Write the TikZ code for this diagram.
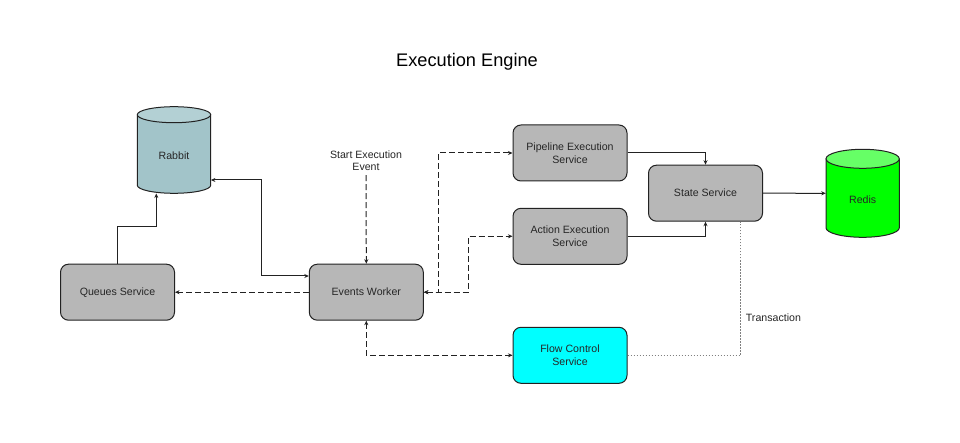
\documentclass[tikz,border=0pt]{standalone}
\usepackage{fontspec}
\setmainfont{Liberation Sans}
\usetikzlibrary{arrows.meta}
\definecolor{boxgray}{HTML}{B7B7B7}
\definecolor{rabbitc}{HTML}{A2C4C9}
\definecolor{rabbittop}{HTML}{B3D0D4}
\definecolor{redisc}{HTML}{00FF00}
\definecolor{redistop}{HTML}{66FF66}
\definecolor{flowc}{HTML}{00FFFF}
\definecolor{edgec}{HTML}{222222}
\definecolor{txtc}{HTML}{262626}
\tikzset{
  svcbox/.style={draw=edgec, line width=1pt, rounded corners=8pt, minimum width=114pt,
    minimum height=56pt, inner sep=0pt, align=center, font=\fontsize{10.6}{12.7}\selectfont, text=txtc},
  cylbox/.style={inner sep=0pt, minimum width=73.4pt, align=center, font=\fontsize{10.6}{12.7}\selectfont, text=txtc},
  conn/.style={line width=1pt, draw=edgec, arrows={-Stealth[length=4.5pt,width=4pt]}},
  dconn/.style={conn, dash pattern=on 6pt off 3pt},
  both/.style={arrows={Stealth[length=4.5pt,width=4pt]-Stealth[length=4.5pt,width=4pt]}},
  lbl/.style={inner sep=0pt, align=center, font=\fontsize{10.6}{12.7}\selectfont, text=txtc}
}
\begin{document}
\begin{tikzpicture}[x=1pt,y=-1pt]
\useasboundingbox (0,0) rectangle (960,443);
\fill[white] (0,0) rectangle (960,443);

\node[inner sep=0pt, font=\fontsize{18.2}{20}\selectfont, text=black] (title) at (467,62) {Execution Engine};

% Rabbit cylinder
\fill[rabbitc] (137.3,114.7) -- (137.3,185.3) arc[start angle=180,end angle=0,x radius=36.7,y radius=8] -- (210.7,114.7) -- cycle;
\draw[edgec, line width=1pt] (137.3,114.7) -- (137.3,185.3) arc[start angle=180,end angle=0,x radius=36.7,y radius=8] -- (210.7,114.7);
\draw[edgec, line width=1pt, fill=rabbittop] (174,114.7) ellipse[x radius=36.7, y radius=8];
\node[cylbox, minimum height=86.6pt] (rabbit) at (174,150) {};
\node[lbl] (rabbitlbl) at (174,156) {Rabbit};

% Redis cylinder
\fill[redisc] (826,158.8) -- (826,227.8) arc[start angle=180,end angle=0,x radius=36.65,y radius=9.5] -- (899.3,158.8) -- cycle;
\draw[edgec, line width=1pt] (826,158.8) -- (826,227.8) arc[start angle=180,end angle=0,x radius=36.65,y radius=9.5] -- (899.3,158.8);
\draw[edgec, line width=1pt, fill=redistop] (862.65,158.8) ellipse[x radius=36.65, y radius=9.5];
\node[cylbox, minimum height=88pt] (redis) at (862.65,193.3) {};
\node[lbl] (redislbl) at (862.65,200) {Redis};

% Service boxes
\node[svcbox, fill=boxgray] (qs) at (117.5,292.2) {Queues Service};
\node[svcbox, fill=boxgray] (ew) at (366.3,292.2) {Events Worker};
\node[svcbox, fill=boxgray] (pes) at (570,153) {Pipeline Execution\\Service};
\node[svcbox, fill=boxgray] (aes) at (570,236.3) {Action Execution\\Service};
\node[svcbox, fill=boxgray] (ss) at (705.5,193.2) {State Service};
\node[svcbox, fill=flowc] (fcs) at (570,355.3) {Flow Control\\Service};

% Labels
\node[lbl, inner ysep=4pt] (start) at (366,160.7) {Start Execution\\Event};
\node[lbl, anchor=west] (trans) at (745.7,317.3) {Transaction};

% Connectors
\draw[conn] (qs.north -| 117.3,0) |- (156.3,227) -- (rabbit.south -| 156.3,0);
\draw[conn, both] (ew.west |- 0,276) -| (261.3,180) -- (rabbit.east |- 0,180);
\draw[dconn] (ew.west) -- (qs.east);
\draw[dconn] (start.south) -- (ew.north);
\draw[dconn, both] (ew.east) -| (438.3,153) -- (pes.west);
\draw[dconn, both] (ew.east) -| (468.3,236.3) -- (aes.west);
\draw[dconn, both] (ew.south) |- (fcs.west);
\draw[conn] (pes.east) -| (ss.north);
\draw[conn] (aes.east) -| (ss.south);
\draw[conn] (ss.east) -- (redis.west);
\draw[line width=0.8pt, draw=gray, dash pattern=on 1.2pt off 1.8pt] (fcs.east) -| (ss.south -| 740.7,0);
\end{tikzpicture}
\end{document}
